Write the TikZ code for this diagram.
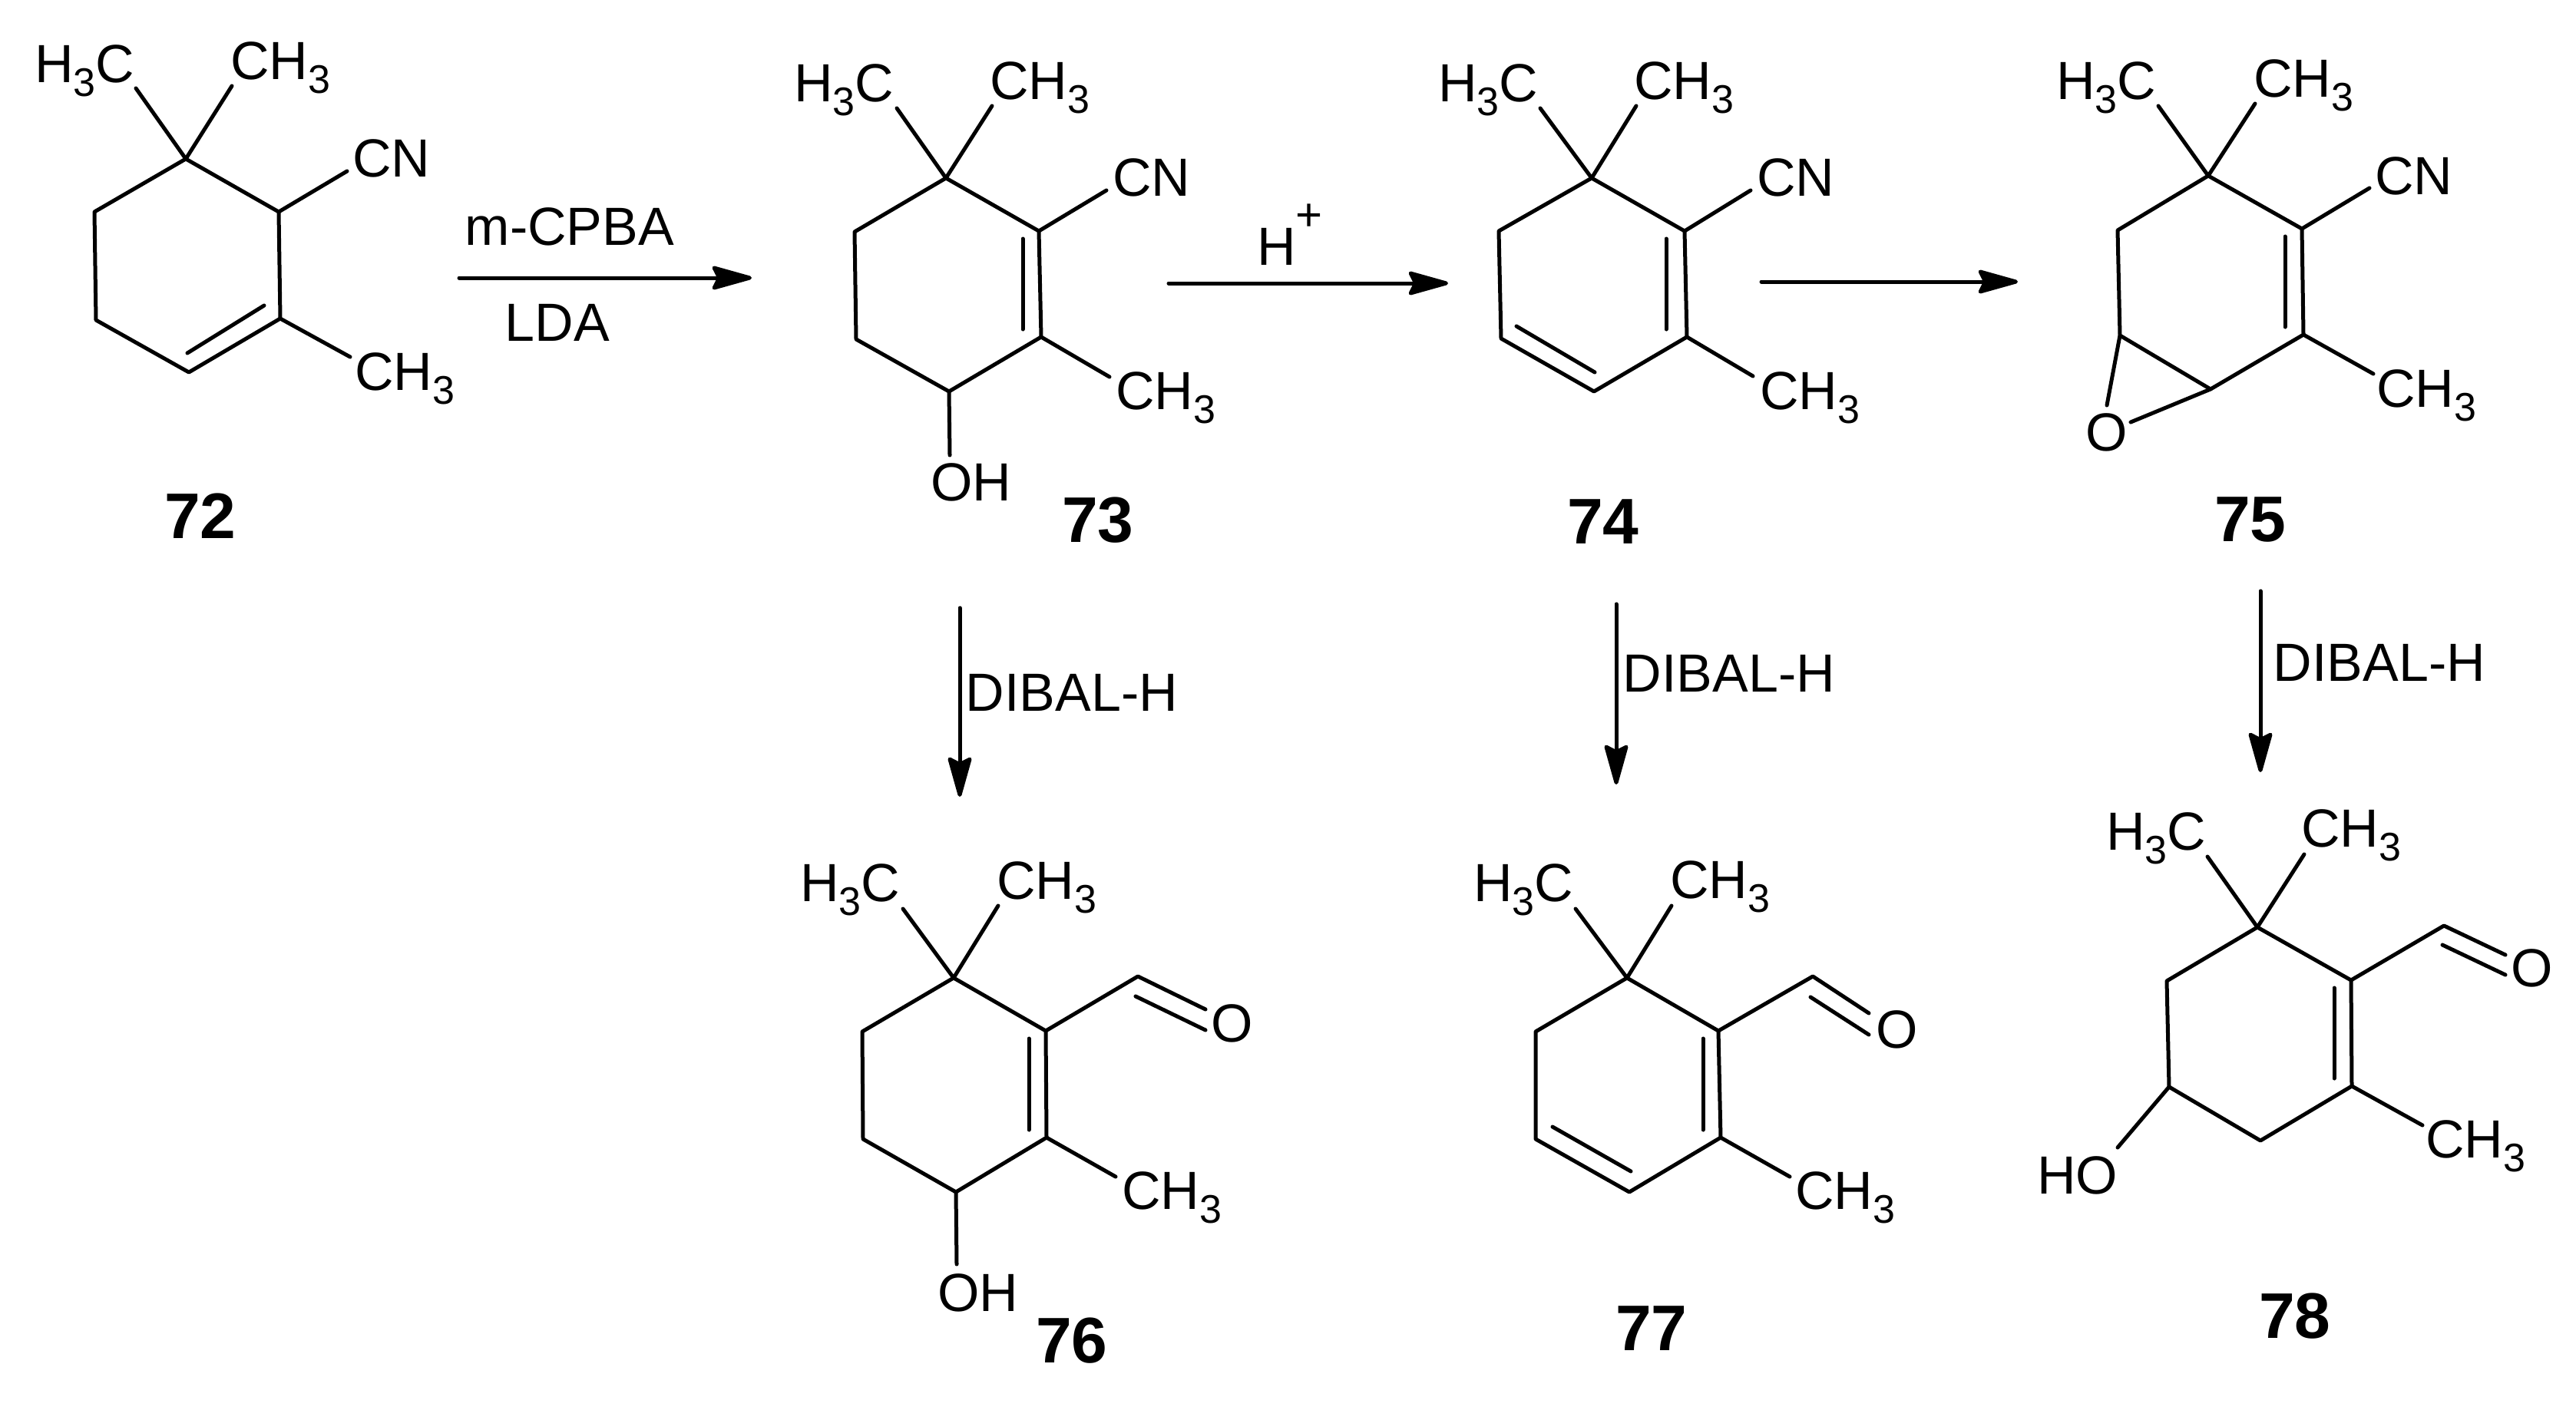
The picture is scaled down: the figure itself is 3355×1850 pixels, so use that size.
\documentclass[tikz,border=0pt]{standalone}
\usepackage{fontspec}
\setmainfont{Liberation Sans}
\usetikzlibrary{arrows.meta}
\newcommand{\subth}{\raisebox{-18pt}{\fontsize{52}{52}\selectfont 3}}
\newcommand{\Hthc}{H\subth C}
\newcommand{\Chth}{CH\subth}
\tikzset{
  chem/.style={font=\fontsize{70}{72}\selectfont,inner sep=0pt,anchor=base west,xshift=1.5pt,yshift=-3pt},
  cnum/.style={font=\fontsize{84}{86}\selectfont\bfseries,inner sep=0pt,anchor=base west,xshift=1pt,yshift=-2pt},
  bond/.style={line width=5pt,line cap=round,line join=round},
  rxn/.style={line width=5pt,line cap=round,-{Stealth[length=60pt,width=33pt,inset=8pt,round]}}
}
\begin{document}
\begin{tikzpicture}[x=1pt,y=-1pt]
\useasboundingbox (0,0) rectangle (3355,1850);
\fill[white] (0,0) rectangle (3355,1850);

% --- 72
\coordinate (q72) at (242,207); \coordinate (tl72) at (123,276); \coordinate (bl72) at (125,417);
\coordinate (bt72) at (246,485); \coordinate (br72) at (365,415); \coordinate (tr72) at (363,276);
\coordinate (e1a72) at (177,115); \coordinate (e2a72) at (302,112); \coordinate (e3a72) at (452,223); \coordinate (e4a72) at (456,465);
\coordinate (d1a72) at (244,460); \coordinate (d1b72) at (344,398);
\draw[bond] (q72)--(tl72)--(bl72)--(bt72)--(br72)--(tr72)--cycle;
\draw[bond] (q72)--(e1a72); \draw[bond] (q72)--(e2a72); \draw[bond] (tr72)--(e3a72); \draw[bond] (br72)--(e4a72); \draw[bond] (d1a72)--(d1b72);
\node[chem] (t1a72) at (43.5,104) {\Hthc};
\node[chem] (t2a72) at (298.5,100) {\Chth};
\node[chem] (t3a72) at (457.5,227) {CN};
\node[chem] (t4a72) at (460.5,505) {\Chth};
\node[cnum] (n72) at (213,699) {72};

% --- arrow 72->73
\coordinate (r1a) at (598,362); \coordinate (r1b) at (979,362);
\draw[rxn] (r1a)--(r1b);
\node[chem] (r1t) at (604,316) {m-CPBA};
\node[chem] (r1u) at (656,441) {LDA};

% --- 73
\coordinate (q73) at (1232,232); \coordinate (tl73) at (1113,302); \coordinate (bl73) at (1115,442);
\coordinate (bt73) at (1236,510); \coordinate (br73) at (1356,439); \coordinate (tr73) at (1353,301);
\coordinate (e1a73) at (1168,141); \coordinate (e2a73) at (1292,138); \coordinate (e3a73) at (1441,248); \coordinate (e4a73) at (1445,491); \coordinate (e5a73) at (1237,593);
\coordinate (d1a73) at (1332,311); \coordinate (d1b73) at (1332,429);
\draw[bond] (q73)--(tl73)--(bl73)--(bt73)--(br73)--(tr73)--cycle;
\draw[bond] (q73)--(e1a73); \draw[bond] (q73)--(e2a73); \draw[bond] (tr73)--(e3a73); \draw[bond] (br73)--(e4a73); \draw[bond] (bt73)--(e5a73); \draw[bond] (d1a73)--(d1b73);
\node[chem] (t1a73) at (1032.5,129) {\Hthc};
\node[chem] (t2a73) at (1287.5,126) {\Chth};
\node[chem] (t3a73) at (1447.5,252) {CN};
\node[chem] (t4a73) at (1451.5,530) {\Chth};
\node[chem] (t5a73) at (1210.5,649) {OH};
\node[cnum] (n73) at (1382,704) {73};

% --- arrow 73->74
\coordinate (r2a) at (1522,369); \coordinate (r2b) at (1886,369);
\draw[rxn] (r2a)--(r2b);
\node[chem] (r2t) at (1635.5,342) {H};
\node[font=\fontsize{60}{60}\selectfont,inner sep=0pt,anchor=center] (r2u) at (1704.5,283) {+};

% --- 74
\coordinate (q74) at (2073,232); \coordinate (tl74) at (1952,301); \coordinate (bl74) at (1955,441);
\coordinate (bt74) at (2076,510); \coordinate (br74) at (2197,439); \coordinate (tr74) at (2194,301);
\coordinate (e1a74) at (2006,141); \coordinate (e2a74) at (2131,138); \coordinate (e3a74) at (2280,248); \coordinate (e4a74) at (2283,490);
\coordinate (d1a74) at (2170,311); \coordinate (d1b74) at (2170,429); \coordinate (d2a74) at (1975,425); \coordinate (d2b74) at (2077,485);
\draw[bond] (q74)--(tl74)--(bl74)--(bt74)--(br74)--(tr74)--cycle;
\draw[bond] (q74)--(e1a74); \draw[bond] (q74)--(e2a74); \draw[bond] (tr74)--(e3a74); \draw[bond] (br74)--(e4a74); \draw[bond] (d1a74)--(d1b74); \draw[bond] (d2a74)--(d2b74);
\node[chem] (t1a74) at (1871.5,129) {\Hthc};
\node[chem] (t2a74) at (2126.5,126) {\Chth};
\node[chem] (t3a74) at (2286.5,252) {CN};
\node[chem] (t4a74) at (2290.5,530) {\Chth};
\node[cnum] (n74) at (2040,706) {74};

% --- arrow 74->75
\coordinate (r3a) at (2294,367); \coordinate (r3b) at (2628,367);
\draw[rxn] (r3a)--(r3b);

% --- 75
\coordinate (q75) at (2876,229); \coordinate (tl75) at (2758,300); \coordinate (bl75) at (2761,437);
\coordinate (bt75) at (2879,507); \coordinate (br75) at (3000,436); \coordinate (tr75) at (2998,298);
\coordinate (e1a75) at (2811,138); \coordinate (e2a75) at (2937,135); \coordinate (e3a75) at (3086,245); \coordinate (e4a75) at (3091,487);
\coordinate (oa75) at (2744,528); \coordinate (ob75) at (2775,550);
\coordinate (d1a75) at (2976,308); \coordinate (d1b75) at (2976,426);
\draw[bond] (q75)--(tl75)--(bl75)--(bt75)--(br75)--(tr75)--cycle;
\draw[bond] (q75)--(e1a75); \draw[bond] (q75)--(e2a75); \draw[bond] (tr75)--(e3a75); \draw[bond] (br75)--(e4a75); \draw[bond] (d1a75)--(d1b75);
\draw[bond] (bl75)--(oa75); \draw[bond] (bt75)--(ob75);
\node[chem] (t1a75) at (2676.5,126) {\Hthc};
\node[chem] (t2a75) at (2933.5,123) {\Chth};
\node[chem] (t3a75) at (3091.5,250) {CN};
\node[chem] (t4a75) at (3093.5,527) {\Chth};
\node[chem] (t5a75) at (2714.5,584) {O};
\node[cnum] (n75) at (2883,703) {75};

% --- DIBAL-H arrows
\coordinate (v1a) at (1250,792); \coordinate (v1b) at (1250,1038);
\coordinate (v2a) at (2105,787); \coordinate (v2b) at (2105,1022);
\coordinate (v3a) at (2944,770); \coordinate (v3b) at (2944,1006);
\draw[rxn] (v1a)--(v1b); \draw[rxn] (v2a)--(v2b); \draw[rxn] (v3a)--(v3b);
\node[font=\fontsize{70}{72}\selectfont,inner sep=0pt,anchor=base west] (v1t) at (1257.5,926) {DIBAL-H};
\node[font=\fontsize{70}{72}\selectfont,inner sep=0pt,anchor=base west] (v2t) at (2113.5,901) {DIBAL-H};
\node[font=\fontsize{70}{72}\selectfont,inner sep=0pt,anchor=base west] (v3t) at (2960.5,887) {DIBAL-H};

% --- 76
\coordinate (q76) at (1242,1274); \coordinate (tl76) at (1123,1344); \coordinate (bl76) at (1124,1484);
\coordinate (bt76) at (1245,1553); \coordinate (br76) at (1363,1482); \coordinate (tr76) at (1362,1343);
\coordinate (e1a76) at (1176,1184); \coordinate (e2a76) at (1300,1180); \coordinate (cho76) at (1482,1272);
\coordinate (oa76) at (1570,1315); \coordinate (ob76) at (1479,1298); \coordinate (oc76) at (1570,1342);
\coordinate (e4a76) at (1453,1533); \coordinate (e5a76) at (1246,1647);
\coordinate (d1a76) at (1340,1353); \coordinate (d1b76) at (1340,1472);
\draw[bond] (q76)--(tl76)--(bl76)--(bt76)--(br76)--(tr76)--cycle;
\draw[bond] (q76)--(e1a76); \draw[bond] (q76)--(e2a76); \draw[bond] (tr76)--(cho76)--(oa76); \draw[bond] (ob76)--(oc76); \draw[bond] (br76)--(e4a76); \draw[bond] (bt76)--(e5a76); \draw[bond] (d1a76)--(d1b76);
\node[chem] (t1a76) at (1040.5,1171) {\Hthc};
\node[chem] (t2a76) at (1296.5,1168) {\Chth};
\node[chem] (t3a76) at (1575.5,1354) {O};
\node[chem] (t4a76) at (1459.5,1572) {\Chth};
\node[chem] (t5a76) at (1219.5,1705) {OH};
\node[cnum] (n76) at (1348,1773) {76};

% --- 77
\coordinate (q77) at (2119,1274); \coordinate (tl77) at (2000,1344); \coordinate (bl77) at (2000,1484);
\coordinate (bt77) at (2122,1553); \coordinate (br77) at (2241,1482); \coordinate (tr77) at (2238,1343);
\coordinate (e1a77) at (2052,1184); \coordinate (e2a77) at (2177,1180); \coordinate (cho77) at (2361,1272);
\coordinate (oa77) at (2434,1320); \coordinate (ob77) at (2358,1299); \coordinate (oc77) at (2434,1348);
\coordinate (e4a77) at (2331,1533);
\coordinate (d1a77) at (2218,1353); \coordinate (d1b77) at (2218,1472); \coordinate (d2a77) at (2022,1468); \coordinate (d2b77) at (2124,1526);
\draw[bond] (q77)--(tl77)--(bl77)--(bt77)--(br77)--(tr77)--cycle;
\draw[bond] (q77)--(e1a77); \draw[bond] (q77)--(e2a77); \draw[bond] (tr77)--(cho77)--(oa77); \draw[bond] (ob77)--(oc77); \draw[bond] (br77)--(e4a77); \draw[bond] (d1a77)--(d1b77); \draw[bond] (d2a77)--(d2b77);
\node[chem] (t1a77) at (1917.5,1171) {\Hthc};
\node[chem] (t2a77) at (2173.5,1167) {\Chth};
\node[chem] (t3a77) at (2441.5,1362) {O};
\node[chem] (t4a77) at (2336.5,1572) {\Chth};
\node[cnum] (n77) at (2103,1757) {77};

% --- 78
\coordinate (q78) at (2940,1208); \coordinate (tl78) at (2822,1278); \coordinate (bl78) at (2825,1416);
\coordinate (bt78) at (2944,1486); \coordinate (br78) at (3063,1415); \coordinate (tr78) at (3062,1277);
\coordinate (e1a78) at (2875,1116); \coordinate (e2a78) at (3001,1113); \coordinate (cho78) at (3183,1206);
\coordinate (oa78) at (3263,1244); \coordinate (ob78) at (3181,1231); \coordinate (oc78) at (3263,1270);
\coordinate (e4a78) at (3155,1466); \coordinate (e5a78) at (2758,1495);
\coordinate (d1a78) at (3040,1287); \coordinate (d1b78) at (3040,1405);
\draw[bond] (q78)--(tl78)--(bl78)--(bt78)--(br78)--(tr78)--cycle;
\draw[bond] (q78)--(e1a78); \draw[bond] (q78)--(e2a78); \draw[bond] (tr78)--(cho78)--(oa78); \draw[bond] (ob78)--(oc78); \draw[bond] (br78)--(e4a78); \draw[bond] (bl78)--(e5a78); \draw[bond] (d1a78)--(d1b78);
\node[chem] (t1a78) at (2741.5,1104) {\Hthc};
\node[chem] (t2a78) at (2995.5,1100) {\Chth};
\node[chem] (t3a78) at (3268.5,1282) {O};
\node[chem] (t4a78) at (3157.5,1505) {\Chth};
\node[chem] (t5a78) at (2651.5,1552) {HO};
\node[cnum] (n78) at (2941,1741) {78};
\end{tikzpicture}
\end{document}
